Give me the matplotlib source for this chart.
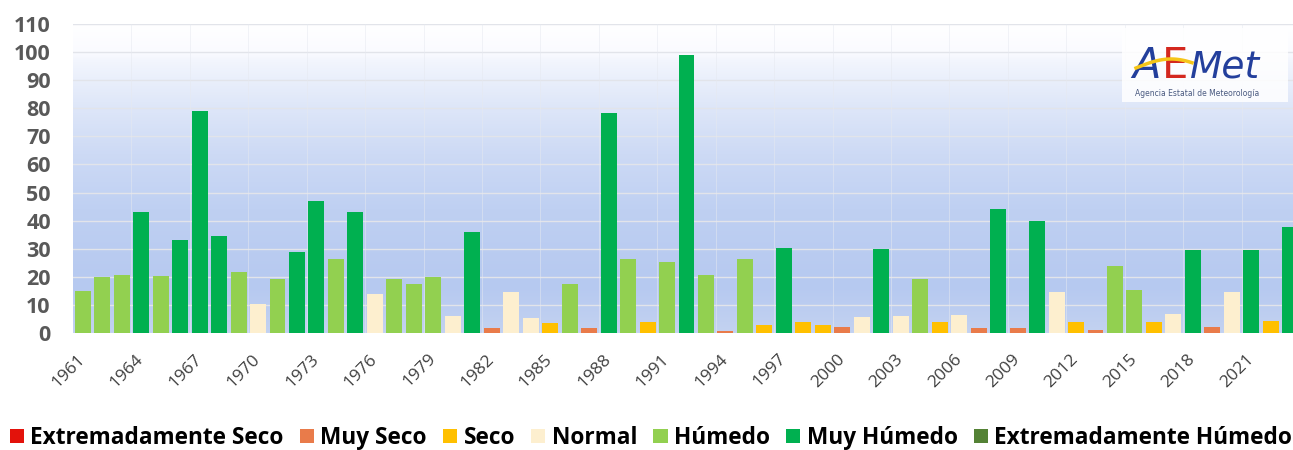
import matplotlib
matplotlib.use("Agg")
import matplotlib.pyplot as plt
import numpy as np
from matplotlib.colors import LinearSegmentedColormap
from matplotlib.patches import Patch, Rectangle

# Annual values 1961-2023 and their classification
years = list(range(1961, 2024))
values = [
    15, 20, 20.5, 43, 20.3, 33, 79, 34.5, 21.7, 10.4,
    19.2, 29, 47, 26.2, 43, 14, 19.3, 17.4, 19.8, 6.2,
    36, 1.8, 14.5, 5.2, 3.5, 17.3, 1.8, 78.3, 26.4, 3.8,
    25.2, 98.8, 20.5, 0.7, 26.2, 2.7, 30.4, 3.8, 2.9, 2.0,
    5.7, 30, 5.9, 19.3, 3.8, 6.4, 1.8, 44.3, 1.8, 40,
    14.6, 3.9, 1.1, 23.8, 15.4, 3.9, 6.9, 29.5, 2.2, 14.6,
    29.5, 4.3, 37.8,
]
classes = [
    "H", "H", "H", "MH", "H", "MH", "MH", "MH", "H", "N",
    "H", "MH", "MH", "H", "MH", "N", "H", "H", "H", "N",
    "MH", "MS", "N", "N", "S", "H", "MS", "MH", "H", "S",
    "H", "MH", "H", "MS", "H", "S", "MH", "S", "S", "MS",
    "N", "MH", "N", "H", "S", "N", "MS", "MH", "MS", "MH",
    "N", "S", "MS", "H", "H", "S", "N", "MH", "MS", "N",
    "MH", "S", "MH",
]

category_keys = ["ES", "MS", "S", "N", "H", "MH", "EH"]
category_labels = ["Extremadamente Seco", "Muy Seco", "Seco", "Normal",
                   "Húmedo", "Muy Húmedo", "Extremadamente Húmedo"]
category_colors = ["#e3120b", "#e97b4a", "#ffc000", "#fdefcf",
                   "#92d050", "#00b050", "#548235"]
color_of = dict(zip(category_keys, category_colors))

y_ticks = list(range(0, 111, 10))

W, H = 1293, 450
fig = plt.figure(figsize=(W / 100, H / 100), dpi=100)
fig.patch.set_facecolor("white")

left_px, right_px, base_px, top_px = 73, 1300, 333, 24
ax = fig.add_axes([left_px / W, (H - base_px) / H,
                   (right_px - left_px) / W, (base_px - top_px) / H])

n = len(years)
x = np.arange(n)
ax.set_xlim(-0.5, n - 0.5)
ax.set_ylim(0, 110)

# Plot-area fill: white at the top fading into a soft blue
stops = [(0.0, "#c3d2f1"), (0.15, "#b6c9f0"), (0.4, "#bfd0f2"),
         (0.58, "#cddaf5"), (0.75, "#e0e8f9"), (0.88, "#f2f5fd"),
         (0.91, "#fafbff"), (1.0, "#ffffff")]
cmap = LinearSegmentedColormap.from_list("fill", stops)
grad = np.linspace(0, 1, 256).reshape(-1, 1)
ax.imshow(grad, extent=(-0.5, n - 0.5, 0, 110), aspect="auto",
          origin="lower", cmap=cmap, zorder=0, interpolation="bilinear")

for yv in y_ticks[1:]:
    ax.axhline(yv, color="#e2e4ea", lw=1.0, zorder=1)
for xv in np.arange(2.5, n, 3):
    ax.axvline(xv, color="#e6e9f0", lw=0.6, alpha=0.6, zorder=1)

ax.bar(x, values, width=0.82, color=[color_of[c] for c in classes],
       zorder=2, linewidth=0)

for s in ax.spines.values():
    s.set_visible(False)

ax.set_yticks(y_ticks)
ax.set_yticklabels([str(v) for v in y_ticks], fontfamily="Open Sans",
                   fontweight="bold", fontsize=15.5, color="#595959")
ax.tick_params(axis="y", length=0, pad=16)

tick_idx = list(range(0, n, 3))
ax.set_xticks(tick_idx)
ax.set_xticklabels([str(years[i]) for i in tick_idx], rotation=45,
                   ha="right", va="center", rotation_mode="anchor",
                   fontfamily="Open Sans", fontsize=12.5, color="#404040")
ax.tick_params(axis="x", length=0, pad=17)

# Legend along the bottom
handles = [Patch(facecolor=c, edgecolor="none") for c in category_colors]
fig.legend(handles, category_labels, loc="center",
           bbox_to_anchor=(651 / W, 1 - 438 / H), ncol=7, frameon=False,
           prop={"family": "Open Sans", "weight": "bold", "size": 16.3},
           handlelength=0.62, handleheight=0.62, handletextpad=0.28,
           columnspacing=0.72, borderpad=0, borderaxespad=0)

# AEMet logo in the upper right corner
fig.patches.append(Rectangle((1122 / W, 1 - 102 / H), 166 / W, 74 / H,
                             transform=fig.transFigure, facecolor="white",
                             edgecolor="none", alpha=0.85, zorder=3))
logo_y = 1 - 78 / H
fig.text(1132 / W, logo_y, "A", fontsize=30, fontstyle="italic",
         fontfamily="DejaVu Sans", color="#233f9c", zorder=4)
fig.text(1162 / W, logo_y, "E", fontsize=30, fontfamily="DejaVu Sans",
         color="#d4281f", zorder=4)
fig.text(1190 / W, logo_y, "Met", fontsize=27, fontstyle="italic",
         fontfamily="DejaVu Sans", color="#233f9c", zorder=4)
t = np.linspace(0, 1, 40)
fig.lines.append(plt.Line2D((1136 + 56 * t) / W,
                            1 - (68 - 9 * np.sin(np.pi * t * 0.8)) / H,
                            transform=fig.transFigure, color="#f5c518",
                            lw=2.5, zorder=5))
fig.text(1135 / W, 1 - 96 / H, "Agencia Estatal de Meteorología",
         fontsize=5.5, fontfamily="DejaVu Sans", color="#4a5a80", zorder=4)

fig.savefig("out.png", dpi=100, facecolor="white")
